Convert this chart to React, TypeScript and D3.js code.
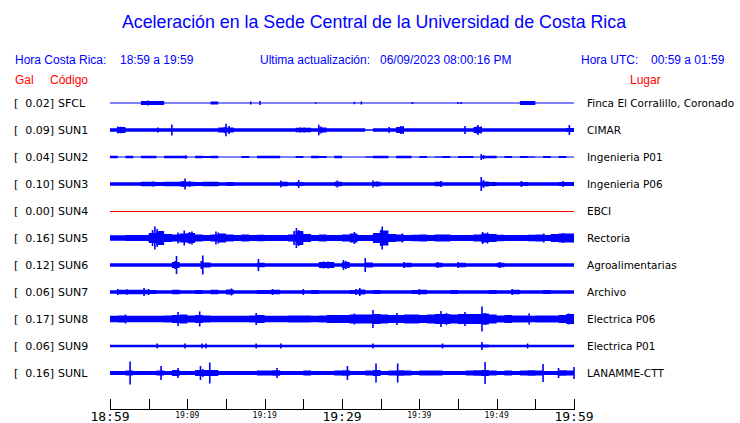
import React from "react";
import * as d3 from "d3";

const title = "Aceleración en la Sede Central de la Universidad de Costa Rica";
const codes = ["SFCL", "SUN1", "SUN2", "SUN3", "SUN4", "SUN5", "SUN6", "SUN7", "SUN8", "SUN9", "SUNL"];
const gals = ["0.02", "0.09", "0.04", "0.10", "0.00", "0.16", "0.12", "0.06", "0.17", "0.06", "0.16"];
const places = ["Finca El Corralillo, Coronado", "CIMAR", "Ingenieria P01", "Ingenieria P06", "EBCI", "Rectoria", "Agroalimentarias", "Archivo", "Electrica P06", "Electrica P01", "LANAMME-CTT"];
const tickMinutes = [0, 5, 10, 15, 20, 25, 30, 35, 40, 45, 50, 55, 60];
const bigLabels = [[0, "18:59"], [30, "19:29"], [60, "19:59"]];
const smallLabels = [[10, "19:09"], [20, "19:19"], [40, "19:39"], [50, "19:49"]];

// envelope half-amplitude per minute (60 values)
const envSFCL = [0.5,0.5,0.5,0.5,2,2,2,0.5,0.5,0.5, 0.5,0.5,0.5,1.5,0.5,0.5,0.5,0.5,0.5,0.5, 0.5,0.5,0.5,0.5,0.5,0.5,0.5,0.5,0.5,0.5, 0.5,0.5,0.5,0.5,0.5,0.5,0.5,0.5,0.5,0.5, 0.5,0.5,0.5,0.5,0.5,0.5,0.5,0.5,0.5,0.5, 0.5,0.5,0.5,2,2,0.5,0.5,0.5,0.5,0.5];
const envSUN1 = [1.7,3,1.7,1.7,1.7,1.7,1.7,1.7,1.7,1.7, 1.7,1.7,1.7,1.7,2.5,2.5,1.7,1.7,1.7,1.7, 1.7,1.7,1.7,1.7,2.2,2.2,1.7,2.5,1.7,1.7, 1.7,1.7,1.7,0.8,1.7,1.7,1.7,3,1.7,1.7, 1.7,1.7,1.7,1.7,1.7,1.7,1.7,3,1.7,1.7, 1.7,1.7,1.7,1.7,1.7,1.7,1.7,1.7,1.7,2];
const envSUN2 = [1.2,0.5,1.2,0.6,1.2,1.2,0.5,1.2,1.2,1.2, 0.5,1.2,1.0,1.2,0.5,0.6,0.5,0.9,0.5,1.2, 1.2,1.2,0.5,0.6,1.0,0.5,1.2,1.0,0.5,1.2, 0.6,0.5,0.5,0.7,1.2,1.2,0.5,1.2,1.2,0.5, 1.0,0.5,0.8,1.1,0.5,1.1,1.0,0.5,1.3,1.2, 0.5,1.0,0.5,1.1,0.8,0.5,1.1,0.5,1.1,0.6];
const envSUN3 = [1.7,1.7,1.7,1.7,2.2,2.2,2.0,2.2,2.2,2.5, 2.2,2.0,2.2,2.2,1.8,2.0,1.7,1.7,1.7,1.7, 1.7,1.7,2.2,1.7,2.0,1.7,1.7,1.8,1.8,2.2, 1.7,1.7,1.7,1.8,2.2,1.7,1.7,1.7,1.7,1.7, 1.7,1.7,2.2,1.7,1.7,1.7,1.7,1.7,2.5,2.0, 1.7,1.7,1.7,2.0,1.7,1.7,1.7,1.7,2.0,2.0];
const envSUN4 = [0,0,0,0,0,0,0,0,0,0, 0,0,0,0,0,0,0,0,0,0, 0,0,0,0,0,0,0,0,0,0, 0,0,0,0,0,0,0,0,0,0, 0,0,0,0,0,0,0,0,0,0, 0,0,0,0,0,0,0,0,0,0];
const envSUN5 = [2.8,2.8,3,3,3,5,7,4,3.5,4.5, 5,3.5,3,3.5,4.5,3.5,3,3.5,3,3.2, 3,3,3,3.5,7,4,3,3.5,3,3, 3.5,4.5,3,3,5,7.5,4,3.5,3,3.2, 3.5,3,3.5,3.5,3,3,3,3.5,4.5,4, 3.2,3,3,3,3.2,3.5,3,4,4.5,4.5];
const envSUN6 = [1.7,1.7,1.7,1.7,1.7,1.7,1.7,1.7,3,1.7, 1.7,1.7,2.5,1.7,1.7,1.7,1.7,1.7,1.7,2.2, 1.7,1.7,1.7,1.7,1.7,1.7,1.7,3,3,1.7, 3,1.7,1.7,2.5,1.7,1.7,1.7,1.7,2.2,1.7, 1.7,1.7,2.2,1.7,1.7,2.2,1.7,1.7,1.7,1.7, 2.2,1.7,1.7,1.7,1.7,1.7,1.7,1.7,1.7,1.7];
const envSUN7 = [1.7,2.3,2.3,2.3,2.3,2.0,1.7,1.7,2.3,1.7, 1.7,2.0,1.7,2.3,1.7,2.5,1.7,1.7,1.7,2.0, 2.0,2.3,1.7,1.7,1.7,1.7,2.0,1.7,1.7,1.7, 1.7,2.0,2.5,1.7,2.0,1.7,1.7,1.7,1.7,2.0, 2.3,1.7,1.7,1.7,2.0,1.7,1.7,1.7,1.7,2.0, 1.7,1.7,2.3,1.7,1.7,1.7,2.0,1.7,1.7,1.7];
const envSUN8 = [3.3,3.5,3.3,3.3,3.3,3.3,3.3,3.5,4,4.5, 3.5,4,3.5,3.3,3.3,3.3,3.3,3.3,3.5,4, 3.3,3.3,3.3,3.5,3.5,3.5,3.3,3.5,4,4, 4,4.5,4.5,4.5,5,4.5,4,4,4.5,4.5, 4,4.5,5,5,4.5,5,5,5,5.5,4.5, 3.5,4,3.5,3.5,3.3,3.5,3.5,3.5,4,5];
const envSUN9 = [1.3,1.3,1.3,1.3,1.3,1.3,1.3,1.3,1.3,1.3, 1.3,1.3,1.3,1.3,1.3,1.3,1.3,1.3,1.3,1.3, 1.3,1.3,1.3,1.3,1.3,1.3,1.3,1.3,1.3,1.3, 1.3,1.3,1.3,1.3,1.3,1.3,1.3,1.3,1.3,1.3, 1.3,1.3,1.3,1.3,1.3,1.3,1.3,1.3,1.6,1.3, 1.3,1.3,1.3,1.3,1.3,1.3,1.3,1.3,1.3,1.3];
const envSUNL = [2,2,2.5,2,2,2,2.5,2,3,2, 2,3,3,3,2,2,2,2,2,2.5, 2.5,2.8,2,2,2,2.5,2,2,2,2.5, 2.8,2,2,2.5,3,2,2.5,2.8,2.5,2, 2.5,2.5,2.5,2,2,2,2.5,2.8,3,2.5, 2,2.5,2,2.5,2.8,2.5,2,2,2.8,2.5];

// spikes: [minute, half-amplitude]
const spSFCL = [[4.9, 2.5], [18.2, 1.5], [19.4, 2], [26.6, 0.8], [31.6, 1.2], [32.5, 1.5], [39.1, 1], [45.0, 1], [45.4, 1]];
const spSUN1 = [[1.0, 3.5], [1.4, 3.3], [6.2, 2.5], [8.0, 5.5], [14.8, 3], [15.0, 6.3], [15.4, 4], [24.6, 2.5], [25.1, 2.5], [27.0, 5.3], [27.3, 3.5], [36.1, 3], [37.6, 4], [37.9, 4], [45.9, 4], [47.4, 3.5], [47.6, 5], [48.0, 3.5], [59.4, 5]];
const spSUN2 = [[9.8, 1.6], [48.0, 3], [48.3, 2]];
const spSUN3 = [[5.5, 2.5], [9.4, 3], [9.7, 5.5], [10.3, 3], [22.1, 3.5], [24.4, 4], [29.4, 3.5], [34.0, 3.5], [34.5, 2.5], [42.8, 3], [48.0, 7], [48.3, 4], [53.2, 3], [58.6, 3]];
const spSUN5 = [[5.5, 8], [5.8, 11.5], [6.1, 9], [6.5, 6], [8.8, 5.5], [9.6, 7.5], [10.3, 6], [10.6, 6.5], [13.7, 6.5], [14.0, 5.5], [23.8, 7], [24.1, 10], [24.4, 8], [31.6, 6], [35.0, 8], [35.2, 11.5], [35.5, 7], [37.8, 4.5], [48.2, 6], [48.8, 5.5], [56.1, 4.5], [58.6, 5]];
const spSUN6 = [[8.6, 9], [8.4, 4], [12.0, 9.5], [11.8, 4], [19.2, 6], [27.6, 3.5], [28.2, 3.5], [30.2, 5], [30.5, 4], [33.0, 7], [38.0, 3], [42.4, 3], [45.0, 3], [50.4, 3]];
const spSUN7 = [[1.0, 3], [2.2, 2.8], [4.4, 4], [5.0, 3], [15.7, 3.5], [21.0, 3], [25.0, 3], [32.3, 4], [31.8, 3], [40.0, 3], [52.0, 3]];
const spSUN8 = [[2.0, 4.5], [8.8, 7], [11.6, 7.5], [18.9, 6], [31.6, 5.5], [34.0, 9], [37.1, 6], [42.8, 8], [43.5, 6], [45.9, 7], [48.1, 12.5], [48.5, 6], [54.2, 5.5], [59.3, 5.5]];
const spSUN9 = [[6.1, 2.5], [9.7, 2.5], [11.9, 2.5], [12.4, 2.5], [18.9, 2.5], [22.1, 2.5], [34.0, 2.5], [43.0, 2.5], [48.1, 4], [54.0, 2.5]];
const spSUNL = [[2.6, 11.5], [6.6, 7], [8.8, 5], [11.7, 7], [12.0, 4], [12.9, 10.5], [21.6, 5], [30.7, 7], [34.4, 9.5], [37.2, 9.5], [48.5, 11], [56.0, 9], [58.0, 5], [60.0, 6]];

const envs = [envSFCL, envSUN1, envSUN2, envSUN3, envSUN4, envSUN5, envSUN6, envSUN7, envSUN8, envSUN9, envSUNL];
const spikes = [spSFCL, spSUN1, spSUN2, spSUN3, [], spSUN5, spSUN6, spSUN7, spSUN8, spSUN9, spSUNL];
const colors = ["#0000ff", "#0000ff", "#0000ff", "#0000ff", "#ff0000", "#0000ff", "#0000ff", "#0000ff", "#0000ff", "#0000ff", "#0000ff"];

export default function App() {
  const W = 740, H = 423;
  const x = d3.scaleLinear().domain([0, 60]).range([110, 574]);
  const yRow = d3.scalePoint<string>().domain(codes).range([103, 373]);
  const amp = d3.scaleLinear().domain([-13.5, 13.5]).range([13.5, -13.5]);
  const sans = "'Liberation Sans', Arial, sans-serif";
  const dv = "'DejaVu Sans', sans-serif";
  const mono = "'DejaVu Sans Mono', monospace";

  return (
    <svg width={W} height={H} style={{ position: "fixed", left: 0, top: 0, background: "#fff" }}>
      <rect width={W} height={H} fill="#fff" />
      <text x={374} y={28} textAnchor="middle" fill="#0000ff" fontFamily={sans} fontSize={17.8}>{title}</text>
      <g fontFamily={sans} fontSize={12} fill="#0000ff">
        <text x={15} y={64}>Hora Costa Rica:</text>
        <text x={120} y={64}>18:59 a 19:59</text>
        <text x={260} y={64}>Ultima actualización:</text>
        <text x={380} y={64}>06/09/2023 08:00:16 PM</text>
        <text x={581} y={64}>Hora UTC:</text>
        <text x={651} y={64}>00:59 a 01:59</text>
      </g>
      <g fontFamily={sans} fontSize={12} fill="#ff0000">
        <text x={15} y={84}>Gal</text>
        <text x={50} y={84}>Código</text>
        <text x={630} y={84}>Lugar</text>
      </g>
      {codes.map((c, i) => {
        const y0 = yRow(c) as number;
        const env = envs[i];
        const pts = env.map((v, k) => [k, v]).concat([[60, env[env.length - 1]]]);
        const area = d3.area<number[]>()
          .x((d) => x(d[0]))
          .y0((d) => y0 + amp(-d[1]))
          .y1((d) => y0 + amp(d[1]))
          .curve(d3.curveStepAfter);
        const isFlat = env.every((v) => v === 0);
        return (
          <g key={c}>
            <text x={14} y={y0 + 4} fontFamily={dv} fontSize={11} fill="#000">[</text>
            <text x={54} y={y0 + 4} fontFamily={dv} fontSize={11} fill="#000" textAnchor="end">{gals[i] + "]"}</text>
            <text x={58} y={y0 + 4} fontFamily={dv} fontSize={11} fill="#000">{c}</text>
            <text x={587} y={y0 + 4} fontFamily={dv} fontSize={10.5} fill="#000">{places[i]}</text>
            {isFlat ? (
              <line x1={x(0)} x2={x(60)} y1={y0 + 0.5} y2={y0 + 0.5} stroke={colors[i]} strokeWidth={1} />
            ) : (
              <path d={area(pts) as string} fill={colors[i]} stroke="none" />
            )}
            {(spikes[i] as number[][]).map((s, k) => (
              <line key={k} x1={x(s[0])} x2={x(s[0])} y1={y0 + amp(s[1])} y2={y0 + amp(-s[1])} stroke={colors[i]} strokeWidth={1.6} />
            ))}
          </g>
        );
      })}
      <g>
        <line x1={x(0)} x2={x(60)} y1={409.5} y2={409.5} stroke="#000" strokeWidth={1} />
        {tickMinutes.map((t) => (
          <line key={t} x1={Math.round(x(t)) + 0.5} x2={Math.round(x(t)) + 0.5} y1={399} y2={410} stroke="#000" strokeWidth={1} />
        ))}
        {bigLabels.map(([t, l]) => (
          <text key={l as string} x={x(t as number)} y={421} textAnchor="middle" fontFamily={mono} fontSize={13} fill="#000">{l}</text>
        ))}
        {smallLabels.map(([t, l]) => (
          <text key={l as string} x={x(t as number)} y={418} textAnchor="middle" fontFamily={mono} fontSize={8} fill="#000">{l}</text>
        ))}
      </g>
    </svg>
  );
}
